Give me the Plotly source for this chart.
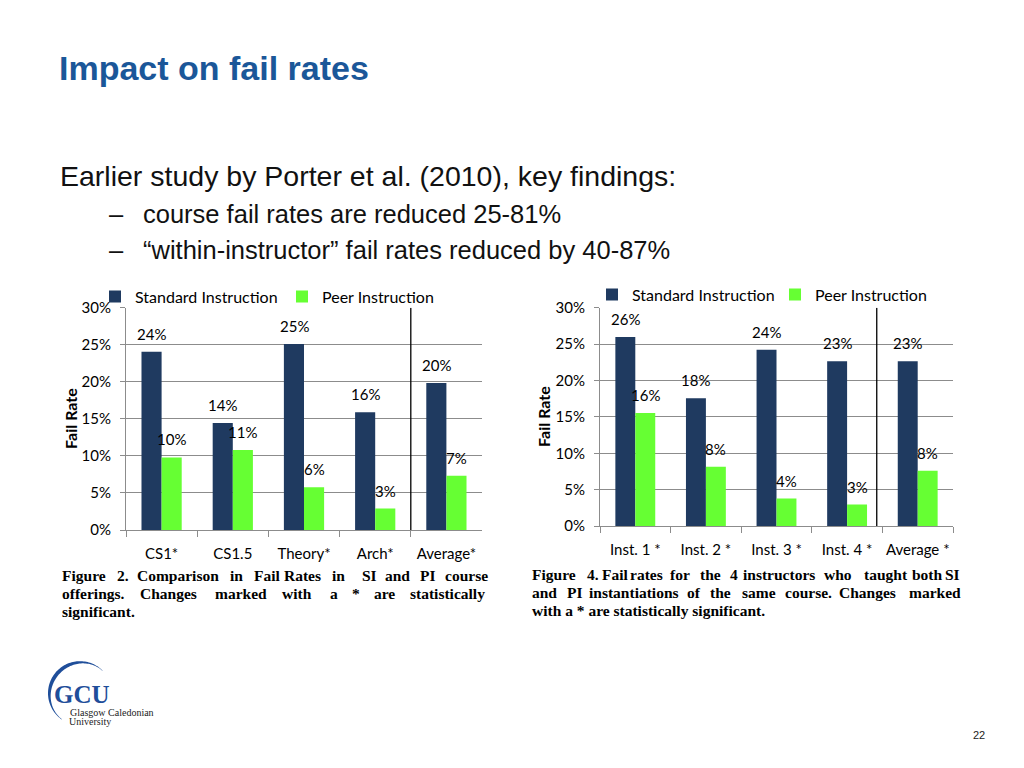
import numpy as np
import plotly.graph_objects as go

# Page layout: the body has an 8px default margin; the figure is sized so
# the page does not overflow the window.  Design coordinates below are in
# screen pixels; a measured vertical correction (KY, BY) maps them onto
# the rendered picture.
OFF = 8
W, H = 1024 - 2 * OFF, 740
KY, BY = 0.9745, 10.8


def px(x):
    return (x - OFF) / W


def py(y):
    yd = (y - BY) / KY
    return 1 - (yd - OFF) / H


# ---------------- data ----------------
courses = ["CS1*", "CS1.5", "Theory*", "Arch*", "Average*"]
course_si = [24.05, 14.44, 25.1, 15.9, 19.86]
course_pi = [9.79, 10.8, 5.78, 2.89, 7.31]

instructors = ["Inst. 1 *", "Inst. 2 *", "Inst. 3 *", "Inst. 4 *", "Average *"]
inst_si = [25.99, 17.57, 24.24, 22.63, 22.63]
inst_pi = [15.55, 8.14, 3.77, 2.94, 7.59]

y_tick_vals = [0, 5, 10, 15, 20, 25, 30]
y_tick_text = ["0%", "5%", "10%", "15%", "20%", "25%", "30%"]

series_names = ["Standard Instruction", "Peer Instruction"]
y_title = "Fail Rate"

# ---------------- style ----------------
SI_COLOR = "#1F3A60"
PI_COLOR = "#66FF33"
AX = "#8C8C8C"
GRID = "#8C8C8C"
CHART_FONT = "Lato"
TITLE_BLUE = "#1B5799"
LOGO_BLUE = "#1F4E9A"

fig = go.Figure()

label_font = dict(family=CHART_FONT, size=15, color="black")
annotations = []

charts = [
    (courses, course_si, course_pi, "x", "y", "legend"),
    (instructors, inst_si, inst_pi, "x2", "y2", "legend2"),
]
for xs, si, pi, xa, ya, lg in charts:
    for name, vals, color, shift in [(series_names[0], si, SI_COLOR, -10), (series_names[1], pi, PI_COLOR, 10)]:
        fig.add_trace(go.Bar(
            x=xs, y=vals, name=name, marker_color=color, marker_line_width=0,
            xaxis=xa, yaxis=ya, legend=lg,
        ))
        # value labels above each bar, placed through the data axes
        for cat, v in zip(xs, vals):
            annotations.append(dict(
                text="%d%%" % int(round(v)), x=cat, y=v, xref=xa, yref=ya,
                xanchor="center", yanchor="bottom", xshift=shift, yshift=7,
                showarrow=False, font=label_font,
            ))


def xaxis_cfg(x0, x1, anchor):
    return dict(
        domain=[px(x0), px(x1)], anchor=anchor, type="category", range=[-0.5, 4.5],
        tickson="boundaries", ticks="outside", ticklen=6, tickcolor=AX, tickangle=0,
        showline=True, linecolor=AX, linewidth=1, showgrid=False,
        tickfont=label_font, ticklabelstandoff=10, fixedrange=True,
    )


def yaxis_cfg(y0, y1, anchor):
    return dict(
        domain=[py(y0), py(y1)], anchor=anchor, range=[0, 30],
        tickvals=y_tick_vals, ticktext=y_tick_text,
        showgrid=True, gridcolor=GRID, gridwidth=1,
        showline=True, linecolor=AX, ticks="outside", ticklen=5, tickcolor=AX,
        tickfont=label_font, ticklabelstandoff=6, zeroline=False,
        fixedrange=True,
    )


legend_common = dict(
    orientation="h", xanchor="left", yanchor="top",
    font=dict(family=CHART_FONT, size=16, color="black"),
    bgcolor="rgba(0,0,0,0)", borderwidth=0, traceorder="normal",
    entrywidthmode="pixels",
)

slide = []

# y-axis titles
for xx, y0, y1 in [(71, 530, 308), (544, 526, 308)]:
    slide.append(dict(text="<b>%s</b>" % y_title, x=px(xx), y=py((y0 + y1) / 2), textangle=-90,
                      xanchor="center", yanchor="middle",
                      font=dict(family=CHART_FONT, size=16, color="black")))

# slide title and body text
slide.append(dict(text="<b>Impact on fail rates</b>", x=px(57), y=py(69), xanchor="left", yanchor="middle",
                  font=dict(family="Liberation Sans", size=34, color=TITLE_BLUE)))
slide.append(dict(text="Earlier study by Porter et al. (2010), key findings:", x=px(58), y=py(176),
                  xanchor="left", yanchor="middle",
                  font=dict(family="Liberation Sans", size=28.5, color="#111111")))
bullets = ["course fail rates are reduced 25-81%", "\u201cwithin-instructor\u201d fail rates reduced by 40-87%"]
for txt, yy in zip(bullets, [214, 250]):
    slide.append(dict(text="\u2013", x=px(107), y=py(yy), xanchor="left", yanchor="middle",
                      font=dict(family="Liberation Sans", size=25.5, color="#111111")))
    slide.append(dict(text=txt, x=px(141), y=py(yy), xanchor="left", yanchor="middle",
                      font=dict(family="Liberation Sans", size=25.5, color="#111111")))

# figure captions (justified lines placed word by word)
cap_font = dict(family="Liberation Serif", size=15.5, color="black")
caption1 = [
    (575, [("Figure", 60), ("2.", 115), ("Comparison", 135), ("in", 228), ("Fail", 252), ("Rates", 282),
           ("in", 330), ("SI", 360), ("and", 383), ("PI", 418), ("course", 443)]),
    (593, [("offerings.", 60), ("Changes", 138), ("marked", 213), ("with", 280), ("a", 328), ("*", 350),
           ("are", 372), ("statistically", 408)]),
    (611, [("significant.", 60)]),
]
caption2 = [
    (574, [("Figure", 530), ("4.", 585), ("Fail", 600), ("rates", 628), ("for", 668), ("the", 698), ("4", 728),
           ("instructors", 741), ("who", 822), ("taught", 862), ("both", 910), ("SI", 943)]),
    (592, [("and", 530), ("PI", 565), ("instantiations", 587), ("of", 685), ("the", 708), ("same", 740),
           ("course.", 783), ("Changes", 837), ("marked", 907)]),
    (610, [("with a * are statistically significant.", 530)]),
]
for cap in (caption1, caption2):
    for yy, words in cap:
        for w, xx in words:
            slide.append(dict(text="<b>%s</b>" % w, x=px(xx), y=py(yy), xanchor="left", yanchor="middle",
                              font=cap_font))

# logo text and page number
slide.append(dict(text="<b>GCU</b>", x=px(82), y=py(694), xanchor="center", yanchor="middle",
                  font=dict(family="Liberation Serif", size=25, color=LOGO_BLUE)))
slide.append(dict(text="Glasgow Caledonian", x=px(68), y=py(712), xanchor="left", yanchor="middle",
                  font=dict(family="Liberation Serif", size=10, color="#222222")))
slide.append(dict(text="University", x=px(67), y=py(721), xanchor="left", yanchor="middle",
                  font=dict(family="Liberation Serif", size=10, color="#222222")))
slide.append(dict(text="22", x=px(979), y=py(735), xanchor="center", yanchor="middle",
                  font=dict(family="Liberation Sans", size=11, color="#222222")))

for a in slide:
    a.update(xref="paper", yref="paper", showarrow=False)
annotations.extend(slide)

# logo arc (crescent)
cx, cy, r = 80.0, 693.0, 32.0
th = np.radians(np.linspace(45, 235, 80))
wdt = 0.4 + 3.4 * np.sin(np.pi * (np.degrees(th) - 45) / 190) ** 1.5
outer = [(cx + r * np.cos(t), cy - r * np.sin(t)) for t in th]
inner = [(cx + (r - w) * np.cos(t), cy - (r - w) * np.sin(t)) for t, w in zip(th[::-1], wdt[::-1])]
pts = outer + inner
arc_path = "M " + " L ".join("%.5f,%.5f" % (px(a), py(b)) for a, b in pts) + " Z"

shapes = [
    dict(type="line", xref="x", yref="y", x0=3.5, x1=3.5, y0=0, y1=30, line=dict(color="black", width=1.3)),
    dict(type="line", xref="x2", yref="y2", x0=3.42, x1=3.42, y0=0, y1=30, line=dict(color="black", width=1.3)),
    dict(type="path", xref="paper", yref="paper", path=arc_path, fillcolor=LOGO_BLUE, line=dict(width=0)),
]

fig.update_layout(
    width=W, height=H, autosize=False,
    margin=dict(l=0, r=0, t=0, b=0),
    paper_bgcolor="white", plot_bgcolor="white",
    barmode="group", bargap=0.435, bargroupgap=0,
    xaxis=xaxis_cfg(126, 482, "y"),
    yaxis=yaxis_cfg(530, 308, "x"),
    xaxis2=xaxis_cfg(600, 953, "y2"),
    yaxis2=yaxis_cfg(526, 308, "x2"),
    legend=dict(legend_common, x=px(95), y=py(280), entrywidth=142),
    legend2=dict(legend_common, x=px(592), y=py(278), entrywidth=138),
    annotations=annotations,
    shapes=shapes,
    showlegend=True,
)

fig.write_html("out.html")
